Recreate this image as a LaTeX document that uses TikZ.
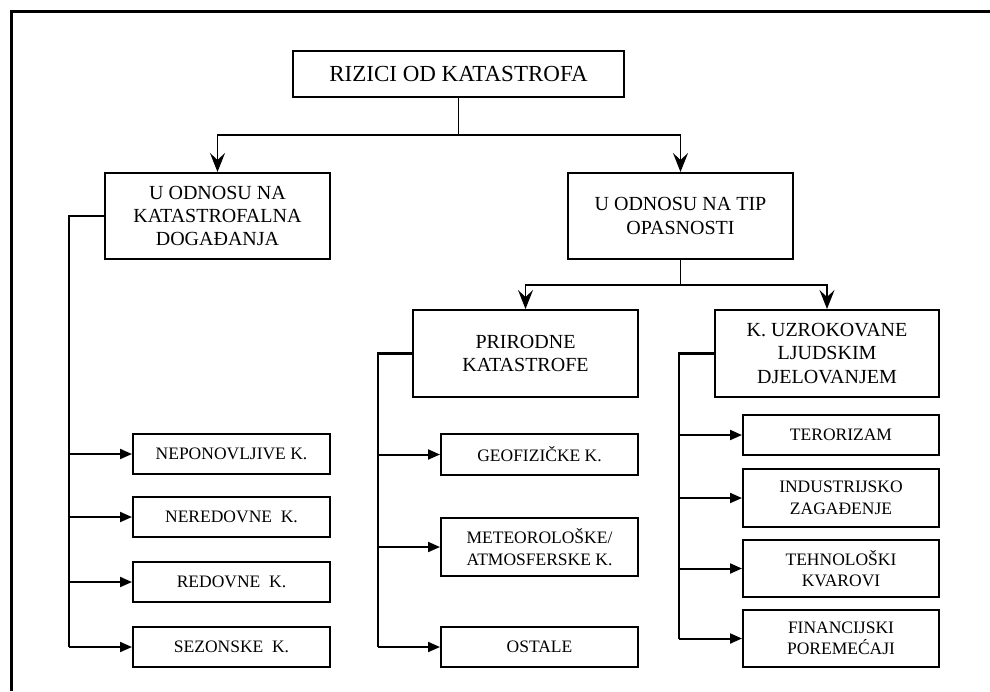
\documentclass[tikz,border=0pt]{standalone}
\usepackage{fontspec}
\setmainfont{Liberation Serif}
\usetikzlibrary{arrows.meta}
\tikzset{
  box/.style={draw,line width=2pt,inner sep=0pt,align=center},
  big/.style={font=\fontsize{23}{27}\selectfont},
  mid/.style={font=\fontsize{20}{23.3}\selectfont},
  small/.style={font=\fontsize{17.5}{21.5}\selectfont},
  down/.style={line width=1.6pt,-{Stealth[length=19pt,width=15pt,inset=7pt]}},
  bus/.style={line width=2.4pt},
  branch/.style={line width=2pt,-{Triangle[length=12pt,width=10pt]}}
}
\begin{document}
\begin{tikzpicture}[x=1pt,y=-1pt]
\useasboundingbox (0,0) rectangle (990,691);
\draw[line width=3pt] (990,11) -- (11,11) -- (11,691);

\node[box,big,minimum width=331pt,minimum height=46pt] (rizici) at (458.5,74) {RIZICI OD KATASTROFA};
\node[box,mid,minimum width=225pt,minimum height=86pt] (dogadjaji) at (217.5,216) {U ODNOSU NA\\KATASTROFALNA\\DOGAĐANJA};
\node[box,mid,minimum width=225pt,minimum height=86pt] (opasnost) at (680.5,216) {U ODNOSU NA TIP\\OPASNOSTI};
\node[box,mid,minimum width=225pt,minimum height=87pt] (prirodne) at (525.5,353.5) {PRIRODNE\\KATASTROFE};
\node[box,mid,minimum width=224pt,minimum height=87pt] (ljudske) at (827,353.5) {K. UZROKOVANE\\LJUDSKIM\\DJELOVANJEM};

\node[box,small,minimum width=197pt,minimum height=40pt] (neponovljive) at (231.5,454) {NEPONOVLJIVE K.};
\node[box,small,minimum width=197pt,minimum height=40pt] (neredovne) at (231.5,517) {NEREDOVNE\ \ K.};
\node[box,small,minimum width=197pt,minimum height=40pt] (redovne) at (231.5,582) {REDOVNE\ \ K.};
\node[box,small,minimum width=197pt,minimum height=40pt] (sezonske) at (231.5,647) {SEZONSKE\ \ K.};

\node[box,small,minimum width=197pt,minimum height=41pt] (geofizicke) at (539.5,454.5) {GEOFIZIČKE K.};
\node[box,small,minimum width=197pt,minimum height=58pt] (meteoroloske) at (539.5,547) {METEOROLOŠKE/\\ATMOSFERSKE K.};
\node[box,small,minimum width=197pt,minimum height=40pt] (ostale) at (539.5,647) {OSTALE};

\node[box,small,minimum width=196pt,minimum height=40pt] (terorizam) at (841,435) {TERORIZAM};
\node[box,small,minimum width=196pt,minimum height=58pt] (industrijsko) at (841,498) {INDUSTRIJSKO\\ZAGAĐENJE};
\node[box,small,minimum width=196pt,minimum height=57pt] (kvarovi) at (841,568.5) {TEHNOLOŠKI\\KVAROVI};
\node[box,small,minimum width=196pt,minimum height=57pt] (financijski) at (841,638.5) {FINANCIJSKI\\POREMEĆAJI};

\coordinate (split) at (458.5,135);
\coordinate (split2) at (680.5,285);
\draw[down] (rizici.south) -- (split) -| (dogadjaji.north);
\draw[down] (split) -| (opasnost.north);
\draw[down] (opasnost.south) -- (split2) -| (prirodne.north);
\draw[down] (split2) -| (ljudske.north);

\coordinate (lbus) at (69,0);
\coordinate (pbus) at (378,0);
\coordinate (rbus) at (679,0);
\draw[bus] (dogadjaji.west) -| (lbus |- sezonske.west);
\draw[bus] (prirodne.west) -| (pbus |- ostale.west);
\draw[bus] (ljudske.west) -| (rbus |- financijski.west);
\foreach \n in {neponovljive,neredovne,redovne,sezonske}
  \draw[branch] (lbus |- \n.west) -- (\n.west);
\foreach \n in {geofizicke,meteoroloske,ostale}
  \draw[branch] (pbus |- \n.west) -- (\n.west);
\foreach \n in {terorizam,industrijsko,kvarovi,financijski}
  \draw[branch] (rbus |- \n.west) -- (\n.west);
\end{tikzpicture}
\end{document}
